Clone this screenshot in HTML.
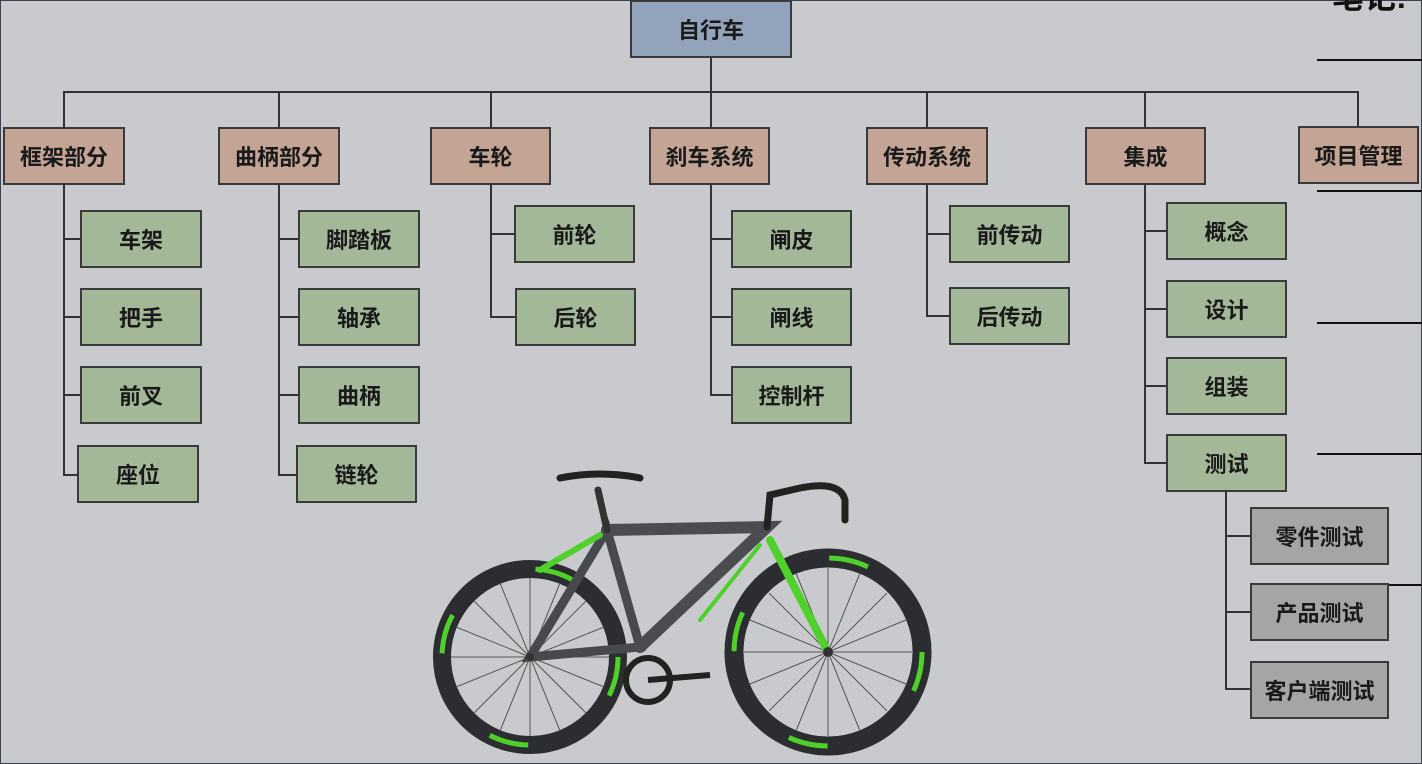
<!DOCTYPE html>
<html><head><meta charset="utf-8"><style>
body{margin:0;width:1422px;height:764px;overflow:hidden;background:#c9cacd;position:relative;font-family:"Liberation Sans","Noto Sans CJK SC",sans-serif;}
.frame{position:absolute;left:0;top:0;width:1420px;height:762px;border:1px solid #3a4050;}
.b{position:absolute;box-sizing:border-box;border:2px solid #3a3a3a;display:flex;align-items:center;justify-content:center;font-size:22px;font-weight:bold;color:#1a1a1a;}
.o{background:#c4a595}.g{background:#a2b898}.y{background:#a5a5a6}.t{background:#94a3bc}
.h{position:absolute;height:2px;background:#333}
.v{position:absolute;width:2px;background:#333}
.r{position:absolute;height:2px;background:#111;left:1317px;width:105px}
</style></head><body>
<div class="frame"></div>
<div style="position:absolute;left:1332px;top:-28px;font-size:32px;font-weight:bold;color:#111">笔记:</div>
<div class="r" style="top:59px"></div><div class="r" style="top:190px"></div><div class="r" style="top:322px"></div><div class="r" style="top:453px"></div><div class="r" style="left:1389px;width:33px;top:584px"></div>

<div class="v" style="left:710px;top:57px;height:35px"></div>
<div class="h" style="left:63px;top:91px;width:1296px"></div>
<div class="v" style="left:63px;top:91px;height:36px"></div>
<div class="v" style="left:278px;top:91px;height:36px"></div>
<div class="v" style="left:490px;top:91px;height:36px"></div>
<div class="v" style="left:710px;top:91px;height:36px"></div>
<div class="v" style="left:926px;top:91px;height:36px"></div>
<div class="v" style="left:1144px;top:91px;height:36px"></div>
<div class="v" style="left:1357px;top:91px;height:36px"></div>

<div class="v" style="left:63px;top:185px;height:291px"></div>
<div class="h" style="left:63px;top:238px;width:18px"></div><div class="h" style="left:63px;top:316px;width:18px"></div><div class="h" style="left:63px;top:394px;width:18px"></div><div class="h" style="left:63px;top:474px;width:15px"></div>
<div class="v" style="left:278px;top:185px;height:291px"></div>
<div class="h" style="left:278px;top:238px;width:21px"></div><div class="h" style="left:278px;top:316px;width:21px"></div><div class="h" style="left:278px;top:394px;width:21px"></div><div class="h" style="left:278px;top:474px;width:19px"></div>
<div class="v" style="left:490px;top:185px;height:133px"></div>
<div class="h" style="left:490px;top:233px;width:25px"></div><div class="h" style="left:490px;top:316px;width:26px"></div>
<div class="v" style="left:710px;top:185px;height:211px"></div>
<div class="h" style="left:710px;top:238px;width:22px"></div><div class="h" style="left:710px;top:316px;width:22px"></div><div class="h" style="left:710px;top:394px;width:22px"></div>
<div class="v" style="left:926px;top:185px;height:132px"></div>
<div class="h" style="left:926px;top:233px;width:24px"></div><div class="h" style="left:926px;top:315px;width:24px"></div>
<div class="v" style="left:1144px;top:185px;height:279px"></div>
<div class="h" style="left:1144px;top:230px;width:23px"></div><div class="h" style="left:1144px;top:308px;width:23px"></div><div class="h" style="left:1144px;top:385px;width:23px"></div><div class="h" style="left:1144px;top:462px;width:23px"></div>
<div class="v" style="left:1225px;top:491px;height:198px"></div>
<div class="h" style="left:1225px;top:535px;width:26px"></div><div class="h" style="left:1225px;top:611px;width:26px"></div><div class="h" style="left:1225px;top:688px;width:26px"></div>

<div class="b t" style="left:630px;top:0;width:162px;height:58px">自行车</div>
<div class="b o" style="left:3px;top:127px;width:122px;height:58px">框架部分</div>
<div class="b o" style="left:218px;top:127px;width:122px;height:58px">曲柄部分</div>
<div class="b o" style="left:430px;top:127px;width:121px;height:58px">车轮</div>
<div class="b o" style="left:649px;top:127px;width:121px;height:58px">刹车系统</div>
<div class="b o" style="left:866px;top:127px;width:122px;height:58px">传动系统</div>
<div class="b o" style="left:1085px;top:127px;width:121px;height:58px">集成</div>
<div class="b o" style="left:1298px;top:126px;width:121px;height:58px">项目管理</div>

<div class="b g" style="left:80px;top:210px;width:122px;height:58px">车架</div>
<div class="b g" style="left:80px;top:288px;width:122px;height:58px">把手</div>
<div class="b g" style="left:80px;top:366px;width:122px;height:58px">前叉</div>
<div class="b g" style="left:77px;top:445px;width:122px;height:58px">座位</div>
<div class="b g" style="left:298px;top:210px;width:122px;height:58px">脚踏板</div>
<div class="b g" style="left:298px;top:288px;width:122px;height:58px">轴承</div>
<div class="b g" style="left:298px;top:366px;width:122px;height:58px">曲柄</div>
<div class="b g" style="left:296px;top:445px;width:121px;height:58px">链轮</div>
<div class="b g" style="left:514px;top:205px;width:121px;height:58px">前轮</div>
<div class="b g" style="left:515px;top:288px;width:121px;height:58px">后轮</div>
<div class="b g" style="left:731px;top:210px;width:121px;height:58px">闸皮</div>
<div class="b g" style="left:731px;top:288px;width:121px;height:58px">闸线</div>
<div class="b g" style="left:731px;top:366px;width:121px;height:58px">控制杆</div>
<div class="b g" style="left:949px;top:205px;width:121px;height:58px">前传动</div>
<div class="b g" style="left:949px;top:287px;width:121px;height:58px">后传动</div>
<div class="b g" style="left:1166px;top:202px;width:121px;height:58px">概念</div>
<div class="b g" style="left:1166px;top:280px;width:121px;height:58px">设计</div>
<div class="b g" style="left:1166px;top:357px;width:121px;height:58px">组装</div>
<div class="b g" style="left:1166px;top:434px;width:121px;height:58px">测试</div>
<div class="b y" style="left:1250px;top:507px;width:139px;height:58px">零件测试</div>
<div class="b y" style="left:1250px;top:583px;width:139px;height:58px">产品测试</div>
<div class="b y" style="left:1250px;top:661px;width:139px;height:58px">客户端测试</div>

<svg style="position:absolute;left:0;top:0" width="1422" height="764">
 <g fill="none">
  <circle cx="530" cy="657" r="88" stroke="#2b2d30" stroke-width="18"/>
  <circle cx="530" cy="657" r="88" stroke="#4fd02a" stroke-width="5" stroke-dasharray="40 100"/>
  <circle cx="828" cy="652" r="94" stroke="#2b2d30" stroke-width="19"/>
  <circle cx="828" cy="652" r="94" stroke="#4fd02a" stroke-width="5" stroke-dasharray="40 108"/>
  <g stroke="#555" stroke-width="1">
   <path d="M530 578V736M451 657H609M474 601L586 713M474 713L586 601M500 583L560 731M560 583L500 731M456 627L604 687M456 687L604 627"/>
   <path d="M828 568V736M744 652H912M769 593L887 711M769 711L887 593M796 573L860 731M860 573L796 731M750 620L906 684M750 684L906 620"/>
  </g>
  <g stroke-linecap="round">
   <path d="M530 657L640 647L607 530Z" stroke="#47494d" stroke-width="9"/>
   <path d="M607 530L767 527L640 647" stroke="#4a4c50" stroke-width="12"/>
   <path d="M770 540L828 652" stroke="#4fd02a" stroke-width="8"/>
   <path d="M607 530L598 490" stroke="#333" stroke-width="7"/>
   <path d="M560 478Q600 470 640 478" stroke="#222" stroke-width="7"/>
   <path d="M767 527L770 495L800 488Q840 480 845 500L845 520" stroke="#222" stroke-width="7"/>
   <path d="M540 570L600 535" stroke="#4fd02a" stroke-width="6"/>
   <path d="M700 620L760 545" stroke="#4fd02a" stroke-width="4"/>
  </g>
  <circle cx="648" cy="680" r="22" stroke="#222" stroke-width="6"/>
  <path d="M648 680L710 675" stroke="#222" stroke-width="6"/>
  <circle cx="530" cy="657" r="4" fill="#333"/><circle cx="828" cy="652" r="5" fill="#333"/>
 </g>
</svg>
</body></html>
